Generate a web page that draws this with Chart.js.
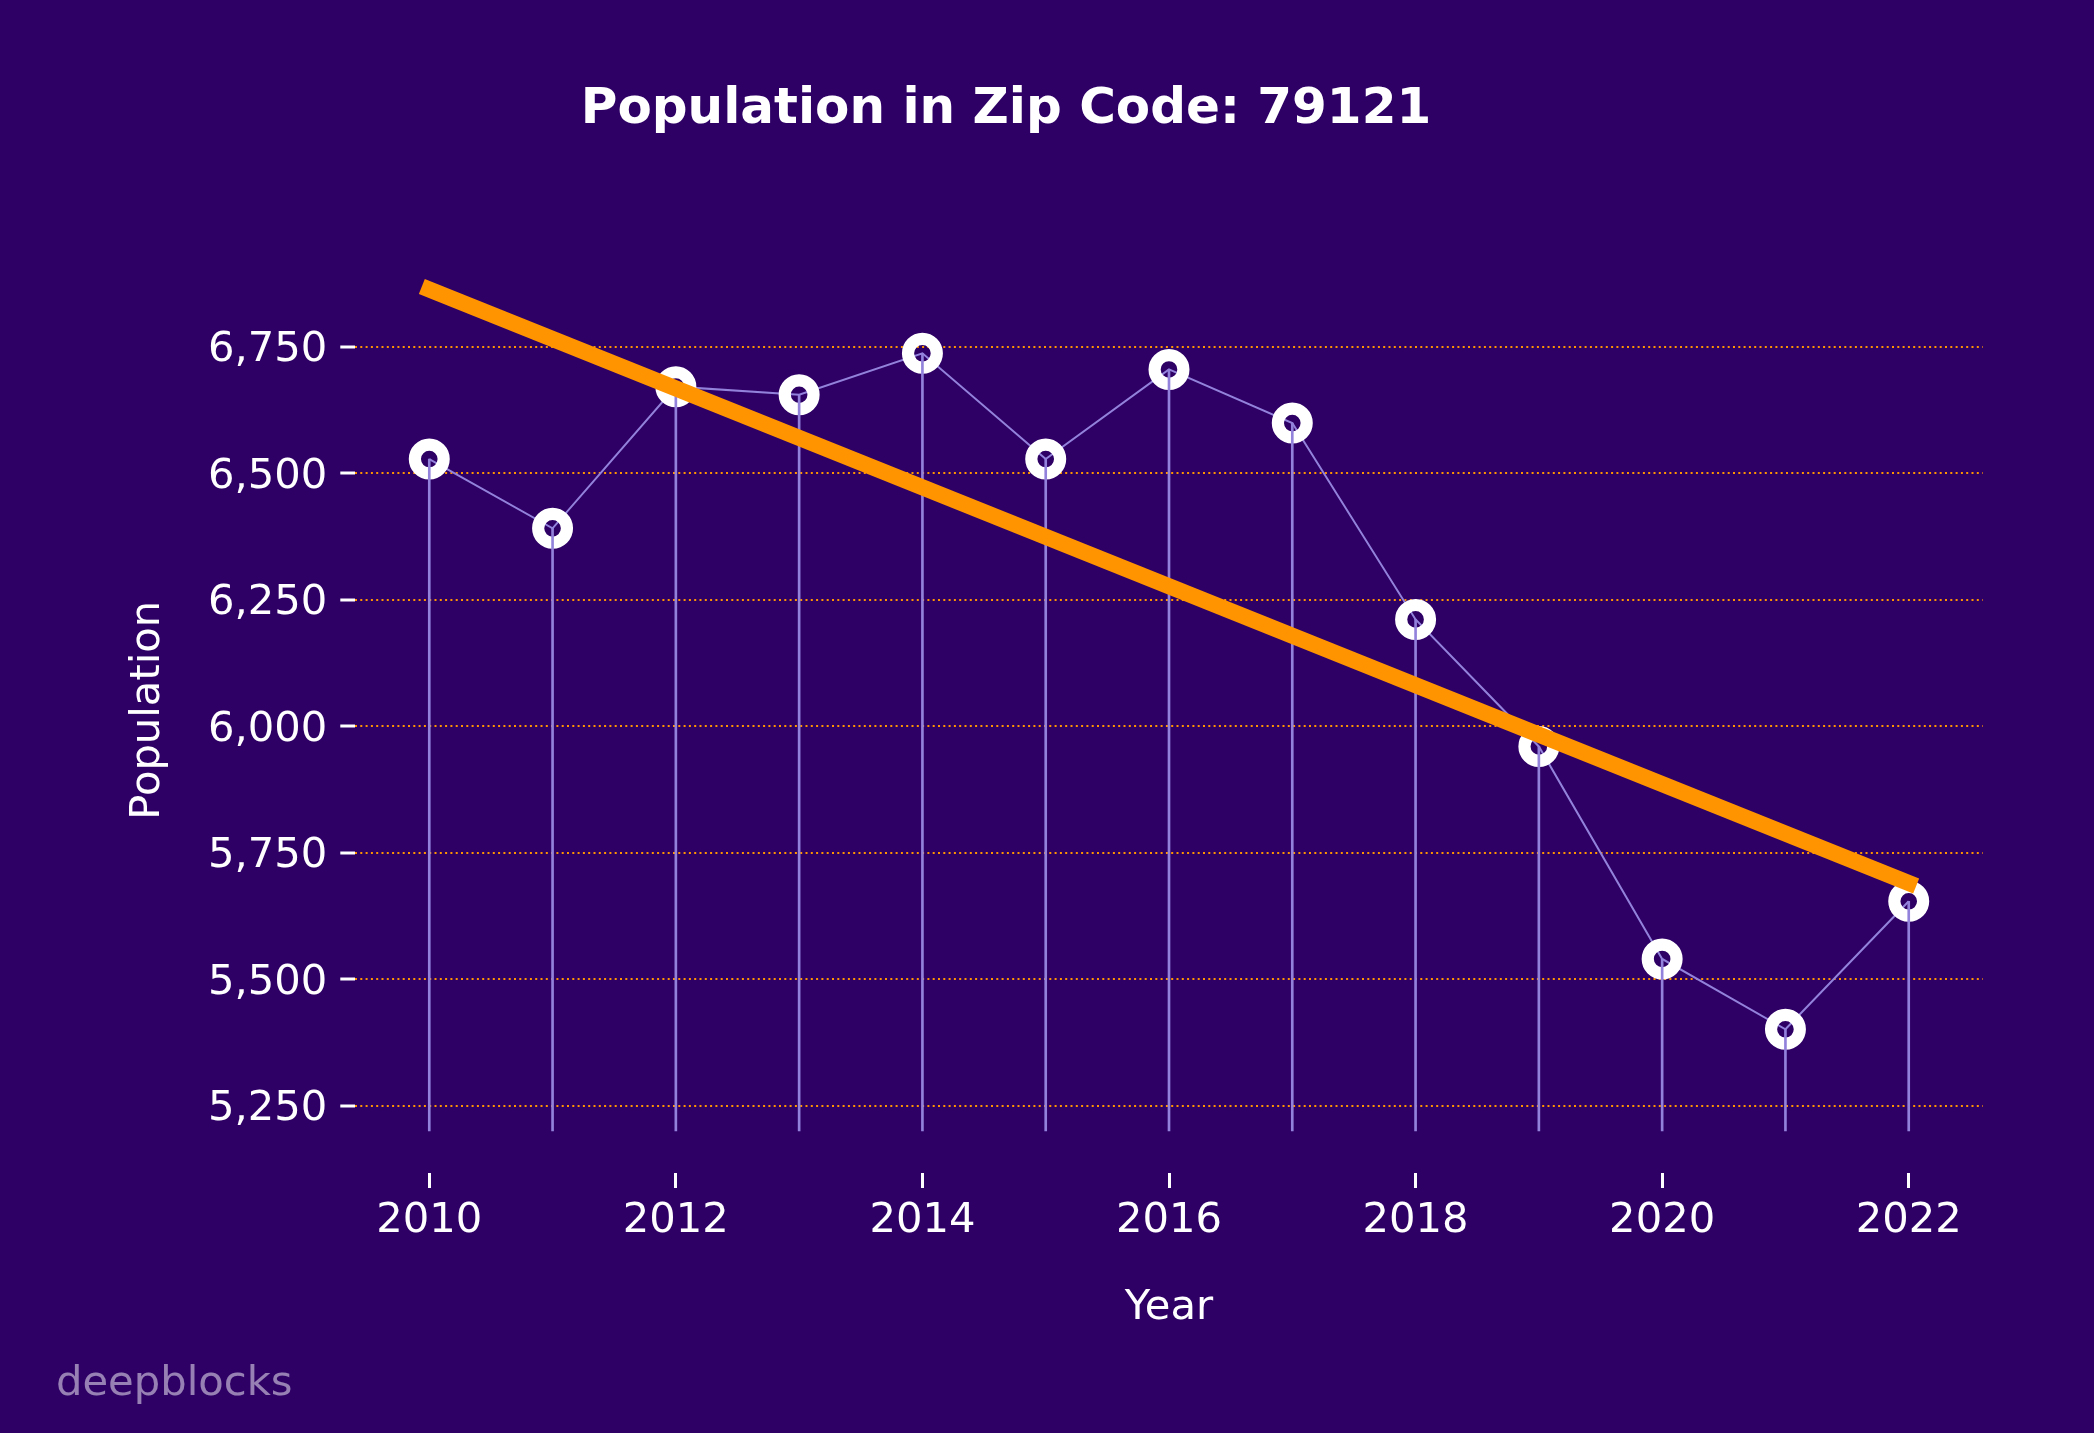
<!DOCTYPE html>
<html>
<head>
<meta charset="utf-8">
<title>Population in Zip Code: 79121</title>
<script src="https://cdn.jsdelivr.net/npm/chart.js@4.4.1/dist/chart.umd.min.js"></script>
<style>
  html, body { margin: 0; padding: 0; background: #2e0066; }
  canvas { display: block; }
</style>
</head>
<body>
<canvas id="popChart" width="2094" height="1433"></canvas>
<script>
// datos
const years = [2010, 2011, 2012, 2013, 2014, 2015, 2016, 2017, 2018, 2019, 2020, 2021, 2022];
const population = [6528, 6391, 6671, 6655, 6737, 6528, 6705, 6599, 6211, 5960, 5540, 5401, 5654];
const trendYears = [2010, 2022];
const trendValues = [6863, 5690];
const stemBase = 5200;
const xTicks = [2010, 2012, 2014, 2016, 2018, 2020, 2022];
const yTicks = [5250, 5500, 5750, 6000, 6250, 6500, 6750];

const BG = '#2e0066';
const FONT = 'DejaVu Sans';
const STEM = '#9382dc';
const ORANGE = '#ff9400';

// fondo + marca de agua
const bgPlugin = {
    id: 'bgPlugin',
    beforeDraw(chart) {
        const ctx = chart.ctx;
        ctx.save();
        ctx.fillStyle = BG;
        ctx.fillRect(0, 0, chart.width, chart.height);
        ctx.restore();
    },
    afterDraw(chart) {
        const ctx = chart.ctx;
        ctx.save();
        ctx.font = '41.7px "' + FONT + '"';
        ctx.fillStyle = 'rgba(255,255,255,0.5)';
        ctx.textBaseline = 'alphabetic';
        ctx.fillText('deepblocks', 56, 1395);
        ctx.restore();
    }
};

const ctx = document.getElementById('popChart').getContext('2d');
const chart = new Chart(ctx, {
    type: 'line',
    data: {
        datasets: [
            {
                label: 'Trend',
                data: trendYears.map((x, i) => ({ x: x, y: trendValues[i] })),
                borderColor: ORANGE,
                borderWidth: 16,
                borderCapStyle: 'square',
                pointRadius: 0,
                order: 0
            },
            {
                type: 'bar',
                label: 'Stems',
                data: years.map((x, i) => ({ x: x, y: [stemBase, population[i]] })),
                backgroundColor: STEM,
                borderWidth: 0,
                barThickness: 2,
                order: 1
            },
            {
                label: 'Population',
                data: years.map((x, i) => ({ x: x, y: population[i] })),
                borderColor: STEM,
                borderWidth: 2,
                pointRadius: 14.4,
                pointBorderWidth: 12.2,
                pointBorderColor: '#ffffff',
                pointBackgroundColor: 'rgba(0,0,0,0)',
                order: 2
            }
        ]
    },
    options: {
        responsive: false,
        animation: false,
        events: [],
        layout: { padding: { left: 29.3, right: 111.3, top: 0, bottom: 0 } },
        plugins: {
            legend: { display: false },
            tooltip: { enabled: false },
            title: {
                display: true,
                text: 'Population in Zip Code: 79121',
                color: '#ffffff',
                font: { family: FONT, size: 50, weight: 'bold', lineHeight: 1.2 },
                padding: { top: 80, bottom: 107.5 }
            }
        },
        scales: {
            x: {
                type: 'linear',
                min: 2009.4,
                max: 2022.6,
                offset: false,
                afterBuildTicks: (scale) => { scale.ticks = xTicks.map(v => ({ value: v })); },
                afterFit: (scale) => { scale.height = 260; },
                ticks: {
                    color: '#ffffff',
                    padding: 8.5,
                    autoSkip: false,
                    maxRotation: 0,
                    font: { family: FONT, size: 41.7 },
                    callback: (v) => String(v)
                },
                grid: {
                    offset: false,
                    drawOnChartArea: false,
                    drawTicks: true,
                    tickLength: 15,
                    tickWidth: 3,
                    tickColor: '#ffffff'
                },
                border: { display: false },
                title: {
                    display: true,
                    text: 'Year',
                    color: '#ffffff',
                    font: { family: FONT, size: 41.7 },
                    padding: { top: 0, bottom: 100 }
                }
            },
            y: {
                type: 'linear',
                min: 5117,
                max: 6946,
                afterBuildTicks: (scale) => { scale.ticks = yTicks.map(v => ({ value: v })); },
                afterFit: (scale) => { scale.width = 326; },
                ticks: {
                    color: '#ffffff',
                    padding: 13,
                    labelOffset: 3.5,
                    font: { family: FONT, size: 41.7 },
                    callback: (v) => v.toLocaleString('en-US')
                },
                grid: {
                    color: ORANGE,
                    lineWidth: 2,
                    drawTicks: true,
                    tickLength: 15,
                    tickWidth: 3,
                    tickColor: '#ffffff'
                },
                border: { display: false, dash: [2, 3.3] },
                title: {
                    display: true,
                    text: 'Population',
                    color: '#ffffff',
                    font: { family: FONT, size: 41.7 },
                    padding: { top: 93.5, bottom: 0 }
                }
            }
        }
    },
    plugins: [bgPlugin]
});
</script>
</body>
</html>
